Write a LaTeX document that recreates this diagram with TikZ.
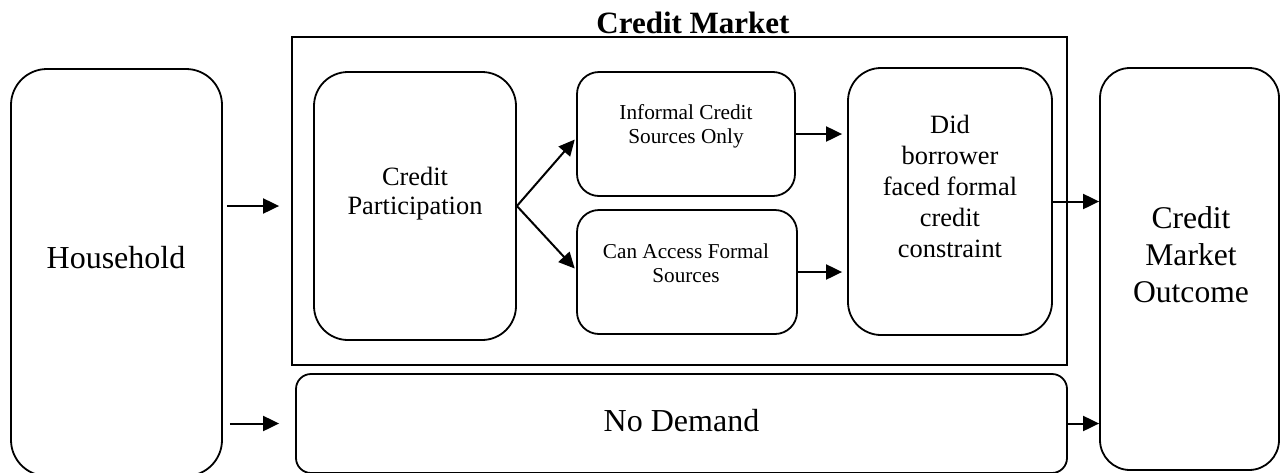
\documentclass[tikz,border=0pt]{standalone}
\usepackage{fontspec}
\setmainfont{Liberation Serif}
\usetikzlibrary{arrows.meta}
\begin{document}
\begin{tikzpicture}[x=1pt,y=-1pt,
  rbox/.style={draw, line width=1.8pt, rounded corners=#1, inner sep=0pt},
  frame/.style={draw, line width=1.8pt, inner sep=0pt},
  arr/.style={-{Triangle[length=16pt,width=15pt]}, line width=2pt},
  lbl/.style={anchor=base, align=center, inner sep=0pt}]
\useasboundingbox (0,0) rectangle (1280,472);

% boxes
\node[rbox=36pt, minimum width=211pt, minimum height=407pt] (hh) at (116.5,272.5) {};
\node[frame, minimum width=775pt, minimum height=328pt] (cm) at (679.5,201) {};
\node[rbox=34pt, minimum width=202pt, minimum height=268pt] (cp) at (415,206) {};
\node[rbox=22pt, minimum width=218pt, minimum height=124pt] (inf) at (686,134) {};
\node[rbox=22pt, minimum width=220pt, minimum height=124pt] (acc) at (687,272) {};
\node[rbox=33pt, minimum width=204pt, minimum height=267pt] (did) at (950,201.5) {};
\node[rbox=15pt, minimum width=771pt, minimum height=99pt] (nd) at (681.5,423.5) {};
\node[rbox=30pt, minimum width=179pt, minimum height=402pt] (outc) at (1189.5,269) {};

% texts
\node[lbl, font=\bfseries\fontsize{31}{36}\selectfont] (title) at (693,33) {Credit Market};
\node[lbl, font=\fontsize{32}{37}\selectfont] (hhtext) at (116,268) {Household};
\node[lbl, font=\fontsize{26.4}{29}\selectfont] (cptext) at (415,214) {Credit\\Participation};
\node[lbl, font=\fontsize{21.3}{23.3}\selectfont] (inftext) at (686,143) {Informal Credit\\Sources Only};
\node[lbl, font=\fontsize{21.2}{24}\selectfont] (acctext) at (686,282) {Can Access Formal\\Sources};
\node[lbl, font=\fontsize{26.4}{31}\selectfont] (didtext) at (950,257) {Did\\borrower\\faced formal\\credit\\constraint};
\node[lbl, font=\fontsize{32}{37}\selectfont] (ndtext) at (681.5,431) {No Demand};
\node[lbl, font=\fontsize{31.6}{37}\selectfont] (outtext) at (1191,302) {Credit\\Market\\Outcome};

% connectors
\draw[arr, shorten <=4pt, shorten >=12pt] (hh.east |- cp.center) -- (cm.west |- cp.center);
\draw[arr, shorten <=7pt, shorten >=16pt] (hh.east |- nd.center) -- (nd.west);
\draw[arr, shorten >=2pt] (cp.east) -- ([yshift=-4pt]inf.west);
\draw[arr, shorten >=2pt] (cp.east) -- ([yshift=2pt]acc.west);
\draw[arr, shorten >=5pt] (inf.east) -- (inf.east -| did.west);
\draw[arr, shorten >=5pt] (acc.east) -- (acc.east -| did.west);
\draw[arr] (did.east) -- (did.east -| outc.west);
\draw[arr] (nd.east) -- (nd.east -| outc.west);
\end{tikzpicture}
\end{document}
